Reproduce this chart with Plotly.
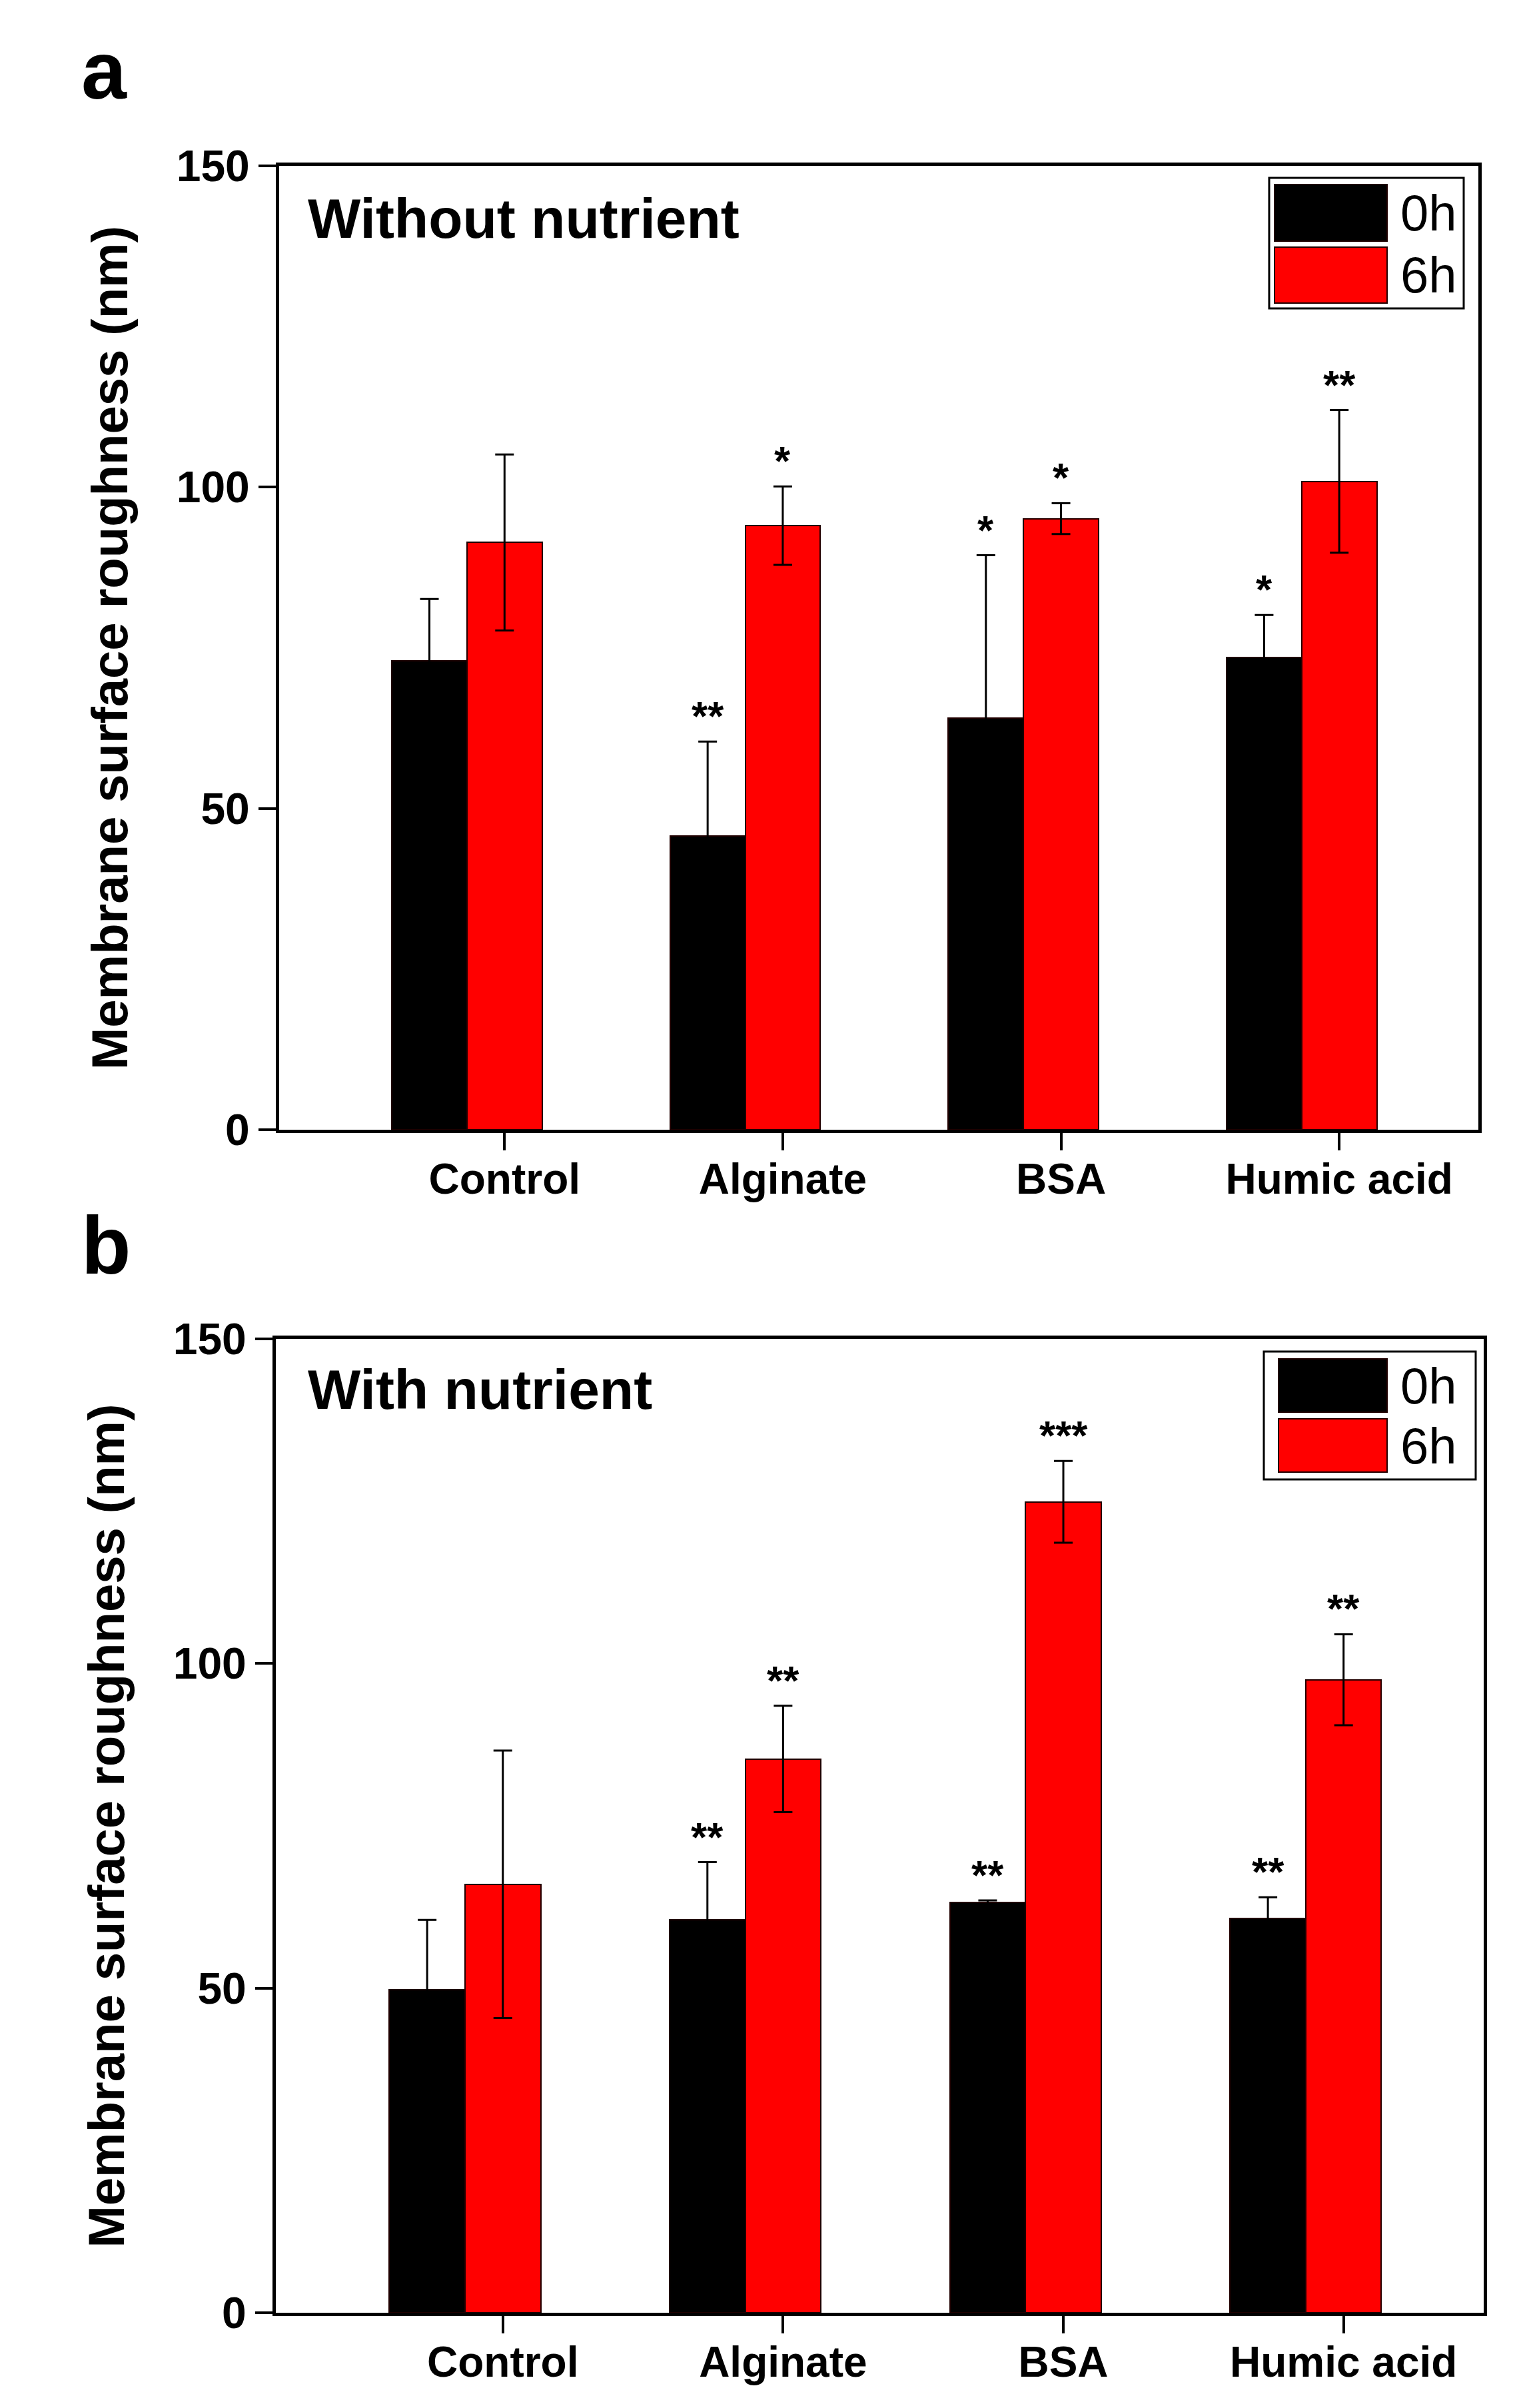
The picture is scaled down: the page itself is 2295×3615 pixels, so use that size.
import plotly.graph_objects as go

categories = ["Control", "Alginate", "BSA", "Humic acid"]
series_names = ["0h", "6h"]

# panel a - without nutrient
a_0h = [73.0, 45.7, 64.1, 73.5]
a_0h_err = [9.6, 14.7, 25.3, 6.6]
a_6h = [91.4, 94.0, 95.1, 100.9]
a_6h_err = [13.7, 6.1, 2.4, 11.1]
a_0h_sig = ["", "**", "*", "*"]
a_6h_sig = ["", "*", "*", "**"]

# panel b - with nutrient
b_0h = [49.8, 60.5, 63.2, 60.7]
b_0h_err = [10.7, 8.9, 0.3, 3.3]
b_6h = [66.0, 85.3, 124.9, 97.5]
b_6h_err = [20.6, 8.2, 6.3, 7.0]
b_0h_sig = ["", "**", "**", "**"]
b_6h_sig = ["", "**", "***", "**"]

W, H = 2295, 3615
ml, mr, mt, mb = 400, 70, 230, 130
pw, ph = W - ml - mr, H - mt - mb


def px_x(px):
    return (px - ml) / pw


def px_y(py):
    return (H - mb - py) / ph


FONT = "Liberation Sans, Arial, sans-serif"
BLACK = "#000000"
RED = "#ff0000"
bw = 0.27
idx = list(range(len(categories)))

fig = go.Figure()

panels = [
    ("x", "y", a_0h, a_0h_err, a_6h, a_6h_err, a_0h_sig, a_6h_sig),
    ("x2", "y2", b_0h, b_0h_err, b_6h, b_6h_err, b_0h_sig, b_6h_sig),
]

annotations = []
for xa, ya, v0, e0, v6, e6, s0, s6 in panels:
    for vals, errs, sig, color, name, off in [
        (v0, e0, s0, BLACK, series_names[0], -1.5 * bw),
        (v6, e6, s6, RED, series_names[1], -0.5 * bw),
    ]:
        fig.add_trace(go.Bar(
            x=idx, y=vals, name=name, width=bw, offset=off,
            marker=dict(color=color, line=dict(color="#200000", width=2)),
            error_y=dict(type="data", array=errs, visible=True,
                         color=BLACK, thickness=3, width=14),
            xaxis=xa, yaxis=ya, showlegend=False,
        ))
        for i, v, e, s in zip(idx, vals, errs, sig):
            if s:
                annotations.append(dict(
                    x=i + off + bw / 2, y=v + e, xref=xa, yref=ya,
                    text=f"<b>{s}</b>", showarrow=False, yanchor="bottom", yshift=2,
                    font=dict(family=FONT, size=62, color=BLACK),
                ))

# panel letters and inner titles
for letter, ly, title, ty in [("a", 98, "Without nutrient", 320),
                              ("b", 1862, "With nutrient", 2078)]:
    annotations.append(dict(
        x=px_x(112), y=px_y(ly), xref="paper", yref="paper", text=f"<b>{letter}</b>",
        showarrow=False, xanchor="left", yanchor="middle",
        font=dict(family=FONT, size=122, color=BLACK)))
    annotations.append(dict(
        x=px_x(452), y=px_y(ty), xref="paper", yref="paper", text=f"<b>{title}</b>",
        showarrow=False, xanchor="left", yanchor="middle",
        font=dict(family=FONT, size=84, color=BLACK)))

# legend boxes (drawn by hand, Origin-style long swatches)
shapes = []
legend_boxes = [
    dict(box=(1897, 259, 2189, 455), sw=(1905, 2074), rows=[(269, 354), (363, 447)]),
    dict(box=(1889, 2021, 2207, 2213), sw=(1911, 2074), rows=[(2032, 2112), (2122, 2202)]),
]
for lg in legend_boxes:
    x0, y0, x1, y1 = lg["box"]
    shapes.append(dict(type="rect", xref="paper", yref="paper",
                       x0=px_x(x0), x1=px_x(x1), y0=px_y(y0), y1=px_y(y1),
                       line=dict(color=BLACK, width=3), fillcolor="white", layer="above"))
    for (r0, r1), color, name in zip(lg["rows"], [BLACK, RED], series_names):
        shapes.append(dict(type="rect", xref="paper", yref="paper",
                           x0=px_x(lg["sw"][0]), x1=px_x(lg["sw"][1]),
                           y0=px_y(r0), y1=px_y(r1),
                           line=dict(color="#200000", width=2), fillcolor=color, layer="above"))
        annotations.append(dict(
            x=px_x(2092), y=px_y((r0 + r1) / 2), xref="paper", yref="paper",
            text=name, showarrow=False, xanchor="left", yanchor="middle",
            font=dict(family=FONT, size=76, color=BLACK)))

xcommon = dict(
    range=[-0.81, 3.5], tickvals=idx, ticktext=categories,
    ticks="outside", ticklen=26, tickwidth=4, tickcolor=BLACK,
    showline=True, linewidth=5, linecolor=BLACK, mirror=True,
    showgrid=False, zeroline=False, automargin=False,
    ticklabelstandoff=-12,
    tickfont=dict(family=FONT, size=64, color=BLACK, weight="bold"),
)
ycommon = dict(
    range=[0, 150], tickvals=[0, 50, 100, 150],
    ticks="outside", ticklen=26, tickwidth=4, tickcolor=BLACK,
    showline=True, linewidth=5, linecolor=BLACK, mirror=True,
    showgrid=False, zeroline=False, automargin=False,
    tickfont=dict(family=FONT, size=66, color=BLACK, weight="bold"),
    title=dict(text="<b>Membrane surface roughness (nm)</b>", standoff=50,
               font=dict(family=FONT, size=76, color=BLACK)),
)

fig.update_layout(
    width=W, height=H,
    margin=dict(l=ml, r=mr, t=mt, b=mb),
    paper_bgcolor="white", plot_bgcolor="white",
    barmode="overlay", bargap=0,
    font=dict(family=FONT, color=BLACK),
    xaxis=dict(xcommon, domain=[px_x(411), px_x(2211)], anchor="y"),
    yaxis=dict(ycommon, domain=[px_y(1688), px_y(241)], anchor="x"),
    xaxis2=dict(xcommon, domain=[px_x(406), px_x(2219)], anchor="y2"),
    yaxis2=dict(ycommon, domain=[px_y(3464), px_y(2002)], anchor="x2"),
    annotations=annotations,
    shapes=shapes,
)

fig.write_html("out.html")
